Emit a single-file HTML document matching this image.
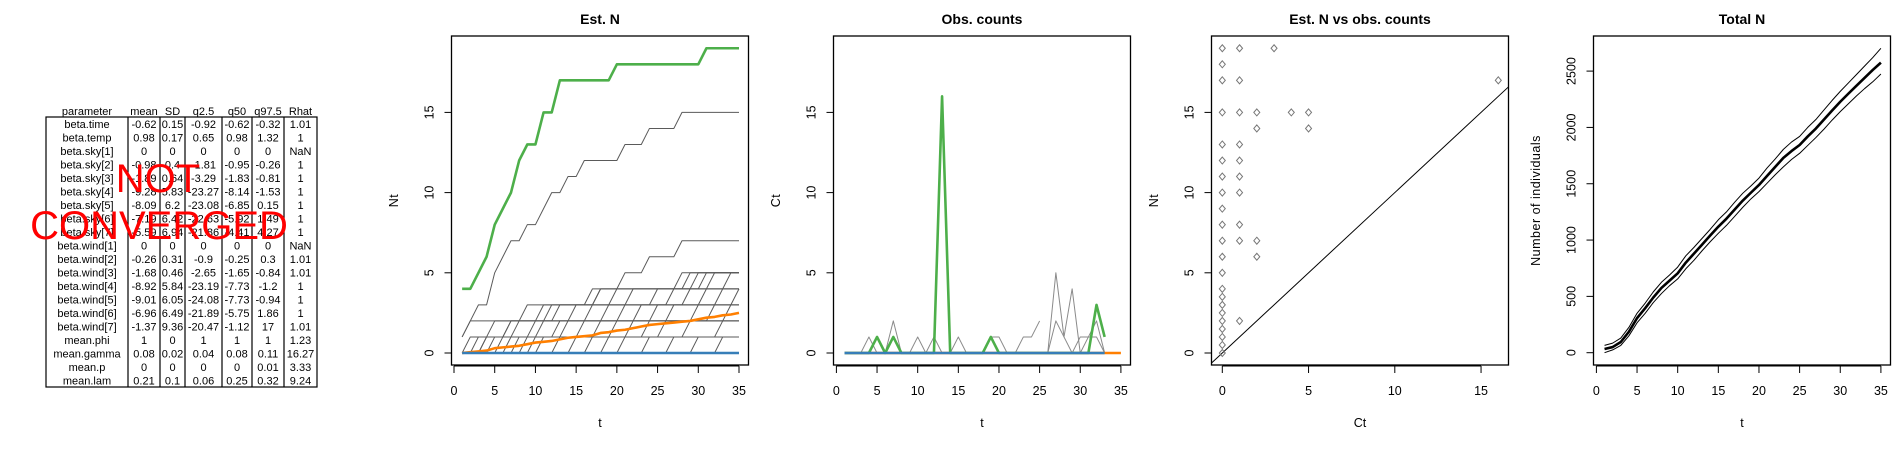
<!DOCTYPE html>
<html><head><meta charset="utf-8">
<style>
html,body{margin:0;padding:0;background:#fff;}
svg{display:block;font-family:"Liberation Sans",Arial,sans-serif;}
</style></head>
<body>
<svg id="fig" width="1900" height="450" viewBox="0 0 1900 450" xmlns="http://www.w3.org/2000/svg">
<rect width="1900" height="450" fill="#fff"/>
<g id="tbl"></g>
<g id="p1"></g>
<g id="p2"></g>
<g id="p3"></g>
<g id="p4"></g>
</svg>
<script>
// ---------- table data ----------
const tblHeader = ["parameter","mean","SD","q2.5","q50","q97.5","Rhat"];
const tblRows = [
["beta.time","-0.62","0.15","-0.92","-0.62","-0.32","1.01"],
["beta.temp","0.98","0.17","0.65","0.98","1.32","1"],
["beta.sky[1]","0","0","0","0","0","NaN"],
["beta.sky[2]","-0.98","0.4","-1.81","-0.95","-0.26","1"],
["beta.sky[3]","-1.89","0.64","-3.29","-1.83","-0.81","1"],
["beta.sky[4]","-9.28","5.83","-23.27","-8.14","-1.53","1"],
["beta.sky[5]","-8.09","6.2","-23.08","-6.85","0.15","1"],
["beta.sky[6]","-7.19","6.42","-22.63","-5.92","1.49","1"],
["beta.sky[7]","-5.59","6.94","-21.86","-4.41","4.27","1"],
["beta.wind[1]","0","0","0","0","0","NaN"],
["beta.wind[2]","-0.26","0.31","-0.9","-0.25","0.3","1.01"],
["beta.wind[3]","-1.68","0.46","-2.65","-1.65","-0.84","1.01"],
["beta.wind[4]","-8.92","5.84","-23.19","-7.73","-1.2","1"],
["beta.wind[5]","-9.01","6.05","-24.08","-7.73","-0.94","1"],
["beta.wind[6]","-6.96","6.49","-21.89","-5.75","1.86","1"],
["beta.wind[7]","-1.37","9.36","-20.47","-1.12","17","1.01"],
["mean.phi","1","0","1","1","1","1.23"],
["mean.gamma","0.08","0.02","0.04","0.08","0.11","16.27"],
["mean.p","0","0","0","0","0.01","3.33"],
["mean.lam","0.21","0.1","0.06","0.25","0.32","9.24"]
];
// ---------- Est. N data ----------
const estT = [1,2,3,4,5,6,7,8,9,10,11,12,13,14,15,16,17,18,19,20,21,22,23,24,25,26,27,28,29,30,31,32,33,34,35];
const estSites = [
[1,2,3,3,5,6,7,7,8,8,9,10,10,11,11,12,12,12,12,12,13,13,13,14,14,14,14,15,15,15,15,15,15,15,15],
[0,0,0,1,1,1,2,2,2,2,2,3,3,3,3,3,3,4,4,4,5,5,5,6,6,6,6,7,7,7,7,7,7,7,7],
[1,2,2,2,2,2,2,2,3,3,3,3,3,3,3,3,4,4,4,4,4,4,4,4,4,4,4,5,5,5,5,5,5,5,5],
[0,1,1,1,2,2,2,2,2,2,3,3,3,3,3,3,3,4,4,4,4,4,4,4,4,4,4,4,5,5,5,5,5,5,5],
[0,0,1,1,1,1,2,2,2,2,2,2,3,3,3,3,3,3,3,4,4,4,4,4,4,4,4,4,4,5,5,5,5,5,5],
[0,0,0,1,1,1,1,2,2,2,2,2,2,2,3,3,3,3,3,3,3,4,4,4,4,4,4,4,4,4,5,5,5,5,5],
[0,0,0,0,1,1,1,1,1,2,2,2,2,2,2,2,3,3,3,3,3,3,3,3,4,4,4,4,4,4,4,5,5,5,5],
[0,0,0,0,0,1,1,1,1,1,2,2,2,2,2,2,2,2,3,3,3,3,3,3,3,3,4,4,4,4,4,4,4,5,5],
[0,0,0,0,0,0,1,1,1,1,1,1,2,2,2,2,2,2,2,2,3,3,3,3,3,3,3,3,4,4,4,4,4,4,4],
[0,0,0,0,0,0,0,1,1,1,1,1,1,2,2,2,2,2,2,2,2,2,3,3,3,3,3,3,3,3,4,4,4,4,4],
[0,0,0,0,0,0,0,0,1,1,1,1,1,1,1,2,2,2,2,2,2,2,2,2,3,3,3,3,3,3,3,3,4,4,4],
[0,0,0,0,0,0,0,0,0,1,1,1,1,1,1,1,1,2,2,2,2,2,2,2,2,2,3,3,3,3,3,3,3,3,4],
[0,0,0,0,0,0,0,0,0,0,1,1,1,1,1,1,1,1,1,2,2,2,2,2,2,2,2,2,2,3,3,3,3,3,3],
[0,0,0,0,0,0,0,0,0,0,0,0,1,1,1,1,1,1,1,1,1,2,2,2,2,2,2,2,2,2,2,3,3,3,3],
[0,0,0,0,0,0,0,0,0,0,0,0,0,0,1,1,1,1,1,1,1,1,1,2,2,2,2,2,2,2,2,2,2,3,3],
[0,0,0,0,0,0,0,0,0,0,0,0,0,0,0,0,1,1,1,1,1,1,1,1,1,2,2,2,2,2,2,2,2,2,2],
[0,0,0,0,0,0,0,0,0,0,0,0,0,0,0,0,0,0,1,1,1,1,1,1,1,1,1,1,2,2,2,2,2,2,2],
[0,0,0,0,0,0,0,0,0,0,0,0,0,0,0,0,0,0,0,0,1,1,1,1,1,1,1,1,1,1,1,1,2,2,2],
[0,0,0,0,0,0,0,0,0,0,0,0,0,0,0,0,0,0,0,0,0,0,0,1,1,1,1,1,1,1,1,1,1,1,1],
[0,0,0,0,0,0,0,0,0,0,0,0,0,0,0,0,0,0,0,0,0,0,0,0,0,0,1,1,1,1,1,1,1,1,1],
[0,0,0,0,0,0,0,0,0,0,0,0,0,0,0,0,0,0,0,0,0,0,0,0,0,0,0,0,0,1,1,1,1,1,1],
[0,0,0,0,0,0,0,0,0,0,0,0,0,0,0,0,0,0,0,0,0,0,0,0,0,0,0,0,0,0,0,0,1,1,1]
];
const estGreen = [4,4,5,6,8,9,10,12,13,13,15,15,17,17,17,17,17,17,17,18,18,18,18,18,18,18,18,18,18,18,19,19,19,19,19];
const estOrange = [0,0.05,0.1,0.15,0.3,0.35,0.4,0.45,0.55,0.65,0.7,0.75,0.85,0.95,1.0,1.05,1.1,1.25,1.3,1.4,1.45,1.55,1.65,1.75,1.8,1.85,1.9,1.95,2.0,2.1,2.2,2.25,2.35,2.4,2.5];
const estBlue = [0,0,0,0,0,0,0,0,0,0,0,0,0,0,0,0,0,0,0,0,0,0,0,0,0,0,0,0,0,0,0,0,0,0,0];
// ---------- Obs counts data ----------
const obsGray = [
[0,0,0,1,0,0,2,0,0,1,0,1,0,0,1,0,0,0,1,1,0,0,1,1,2],
[null,null,null,null,null,null,null,null,null,null,null,null,null,null,null,null,null,null,null,null,null,null,null,null,null,0,5,1,4,0,1,1,0],
[null,null,null,null,null,null,null,null,null,null,null,null,null,null,null,null,null,null,null,null,null,null,null,null,null,0,2,1,0,1,1,2,0]
];
const obsGreen = [0,0,0,0,1,0,1,0,0,0,0,0,16,0,0,0,0,0,1,0,0,0,0,0,0,0,0,0,0,0,0,3,1];
const obsOrange = [0,0,0,0,0,0,0,0,0,0,0,0,0,0,0,0,0,0,0,0,0,0,0,0,0,0,0,0,0,0,0,0,0,0,0];
const obsBlue = [0,0,0,0,0,0,0,0,0,0,0,0,0,0,0,0,0,0,0,0,0,0,0,0,0,0,0,0,0,0,0,0,0];
// ---------- Scatter data ----------
const scCt = [0,1,3,0,0,1,16,0,1,2,4,5,2,5,0,1,0,1,0,1,0,1,0,0,1,0,1,2,0,2,0,0,0,0,0,0,1,0,0,0,0];
const scNt = [19,19,19,18,17,17,17,15,15,15,15,15,14,14,13,13,12,12,11,11,10,10,9,8,8,7,7,7,6,6,5,4,3.5,3,2.5,2,2,1.5,1,0.5,0];
// ---------- Total N data ----------
const totMean = [33,50,95,186,307,395,490,575,640,705,800,880,960,1040,1119,1190,1270,1350,1420,1489,1570,1650,1730,1790,1844,1920,1990,2070,2150,2228,2300,2370,2440,2510,2575];
const totHi = [65,85,130,225,350,440,540,625,690,760,860,935,1015,1095,1180,1250,1335,1415,1480,1550,1640,1720,1805,1870,1920,2000,2070,2155,2240,2320,2395,2470,2545,2620,2702];
const totLo = [0,25,65,150,265,350,445,525,595,655,745,820,905,985,1060,1130,1210,1290,1365,1430,1505,1580,1650,1715,1770,1840,1910,1985,2065,2140,2210,2280,2345,2405,2474];
const xTicks = [0,5,10,15,20,25,30,35];
const nTicks = [0,5,10,15];
const ctTicks = [0,5,10,15];
const totTicks = [0,500,1000,1500,2000,2500];

const NS = "http://www.w3.org/2000/svg";
function mk(parent, tag, attrs){ const e=document.createElementNS(NS,tag); for(const k in attrs) e.setAttribute(k,attrs[k]); parent.appendChild(e); return e; }
function txt(parent, x, y, s, attrs){ const e=mk(parent,'text',Object.assign({x:x,y:y},attrs||{})); e.textContent=s; return e; }

// ---------- table ----------
(function(){
  const g=document.getElementById('tbl');
  const colEdges=[46,128,160,185,222,252,284,317];
  const top=117, rh=13.5;
  tblHeader.forEach((h,i)=>{
    const t=txt(g,(colEdges[i]+colEdges[i+1])/2,115,h,{'font-size':11,'text-anchor':'middle'});
    
    
  });
  const bottom=top+rh*tblRows.length;
  const r=mk(g,'rect',{x:46,y:top,width:271,height:bottom-top,fill:'none',stroke:'#000','stroke-width':1.2});
  
  
  colEdges.slice(1,-1).forEach(x=>mk(g,'line',{x1:x,x2:x,y1:top,y2:bottom,stroke:'#000','stroke-width':1.2}));
  tblRows.forEach((row,ri)=>{
    row.forEach((c,ci)=>{
      const t=txt(g,(colEdges[ci]+colEdges[ci+1])/2,top+rh*ri+rh/2+4,c,{'font-size':11,'text-anchor':'middle'});
      
      
    });
  });
  const w1=txt(g,158,192,'NOT',{'font-size':40,'text-anchor':'middle',fill:'#ff0000'});
  
  
  const w2=txt(g,159,239,'CONVERGED',{'font-size':40,'text-anchor':'middle',fill:'#ff0000'});
  
  
})();

// ---------- panel helper ----------
function panel(id, box, sx, sy, xt, yt, title, xlab, ylab, ylabX){
  const g=document.getElementById(id);
  const clipId=id+'clip';
  const cp=mk(g,'clipPath',{id:clipId}); mk(cp,'rect',{x:box.l,y:box.t,width:box.r-box.l,height:box.b-box.t});
  const plot=mk(g,'g',{'clip-path':'url(#'+clipId+')'});
  
  
  const fr=mk(g,'rect',{x:box.l,y:box.t,width:box.r-box.l,height:box.b-box.t,fill:'none',stroke:'#000','stroke-width':1.3});
  
  
  const xa=mk(g,'g',{});  
  mk(xa,'line',{x1:sx(xt[0]),x2:sx(xt[xt.length-1]),y1:box.b+1,y2:box.b+1,stroke:'#000'});
  xt.forEach(v=>{ mk(xa,'line',{x1:sx(v),x2:sx(v),y1:box.b+1,y2:box.b+8,stroke:'#000'});
    const t=txt(xa,sx(v),395,String(v),{'font-size':12.5,'text-anchor':'middle'});
      });
  const ya=mk(g,'g',{});  
  mk(ya,'line',{x1:box.l,x2:box.l,y1:sy(yt[0]),y2:sy(yt[yt.length-1]),stroke:'#000'});
  yt.forEach(v=>{ mk(ya,'line',{x1:box.l-7,x2:box.l,y1:sy(v),y2:sy(v),stroke:'#000'});
    const t=txt(ya,0,0,String(v),{'font-size':12.5,'text-anchor':'middle',transform:'translate('+(box.l-18)+','+sy(v)+') rotate(-90)'});
      });
  const cx=(box.l+box.r)/2;
  const tt=txt(g,cx,24,title,{'font-size':14,'font-weight':'bold','text-anchor':'middle'});
   
  const xl=txt(g,cx,427,xlab,{'font-size':12.5,'text-anchor':'middle'});
   
  const yl=txt(g,0,0,ylab,{'font-size':12.5,'text-anchor':'middle','letter-spacing':'0.5',transform:'translate('+ylabX+','+((box.t+box.b)/2)+') rotate(-90)'});
   
  return plot;
}
function linePath(g, xs, ys, sx, sy, stroke, w){
  let d=''; let pen=false;
  for(let i=0;i<ys.length;i++){
    if(ys[i]===null||ys[i]===undefined){pen=false;continue;}
    d+=(pen?'L':'M')+sx(xs[i]).toFixed(2)+' '+sy(ys[i]).toFixed(2)+' '; pen=true;
  }
  return mk(g,'path',{d:d,fill:'none',stroke:stroke,'stroke-width':w,'stroke-linejoin':'round'});
}

// ---------- panel 1: Est. N ----------
(function(){
  const box={l:451.5,r:748.5,t:36,b:365};
  const sx=t=>454+t*(285/35), sy=v=>353-v*16.04;
  const g=panel('p1',box,sx,sy,xTicks,nTicks,'Est. N','t','Nt',398);
  estSites.forEach(s=>{ const p=linePath(g,estT,s,sx,sy,'#5a5a5a',1);
      });
  let p=linePath(g,estT,estGreen,sx,sy,'#4daf4a',2.6);
   
  p=linePath(g,estT,estOrange,sx,sy,'#ff7f00',2.6);
   
  p=linePath(g,estT,estBlue,sx,sy,'#377eb8',2.6);
   
})();

// ---------- panel 2: Obs. counts ----------
(function(){
  const box={l:833.5,r:1130.5,t:36,b:365};
  const sx=t=>836.4+t*(284.5/35), sy=v=>353-v*16.04;
  const g=panel('p2',box,sx,sy,xTicks,nTicks,'Obs. counts','t','Ct',780);
  obsGray.forEach(s=>{ const p=linePath(g,estT,s,sx,sy,'#8a8a8a',1);
      });
  let p=linePath(g,estT,obsOrange,sx,sy,'#ff7f00',2.6);
   
  p=linePath(g,estT,obsGreen,sx,sy,'#4daf4a',2.6);
   
  p=linePath(g,estT,obsBlue,sx,sy,'#377eb8',2.6);
   
})();

// ---------- panel 3: scatter ----------
(function(){
  const box={l:1211.5,r:1508.5,t:36,b:365};
  const sx=c=>1222.3+c*17.25, sy=v=>353-v*16.04;
  const g=panel('p3',box,sx,sy,ctTicks,nTicks,'Est. N vs obs. counts','Ct','Nt',1158);
  const l=mk(g,'line',{x1:sx(-2),y1:sy(-2),x2:sx(20),y2:sy(20),stroke:'#000','stroke-width':1});
   
  scCt.forEach((c,i)=>{
    const x=sx(c), y=sy(scNt[i]);
    const d=mk(g,'path',{d:`M${x} ${y-3.5}L${x+3} ${y}L${x} ${y+3.5}L${x-3} ${y}Z`,fill:'none',stroke:'#777','stroke-width':1});
     
  });
})();

// ---------- panel 4: Total N ----------
(function(){
  const box={l:1593.5,r:1890.5,t:36,b:365};
  const sx=t=>1596.4+t*(284.5/35), sy=v=>352.7-v*0.11264;
  const g=panel('p4',box,sx,sy,xTicks,totTicks,'Total N','t','Number of individuals',1540);
  let p=linePath(g,estT,totHi,sx,sy,'#000',1);
   
  p=linePath(g,estT,totLo,sx,sy,'#000',1);
   
  p=linePath(g,estT,totMean,sx,sy,'#000',2.6);
   
})();
</script>
</body></html>
